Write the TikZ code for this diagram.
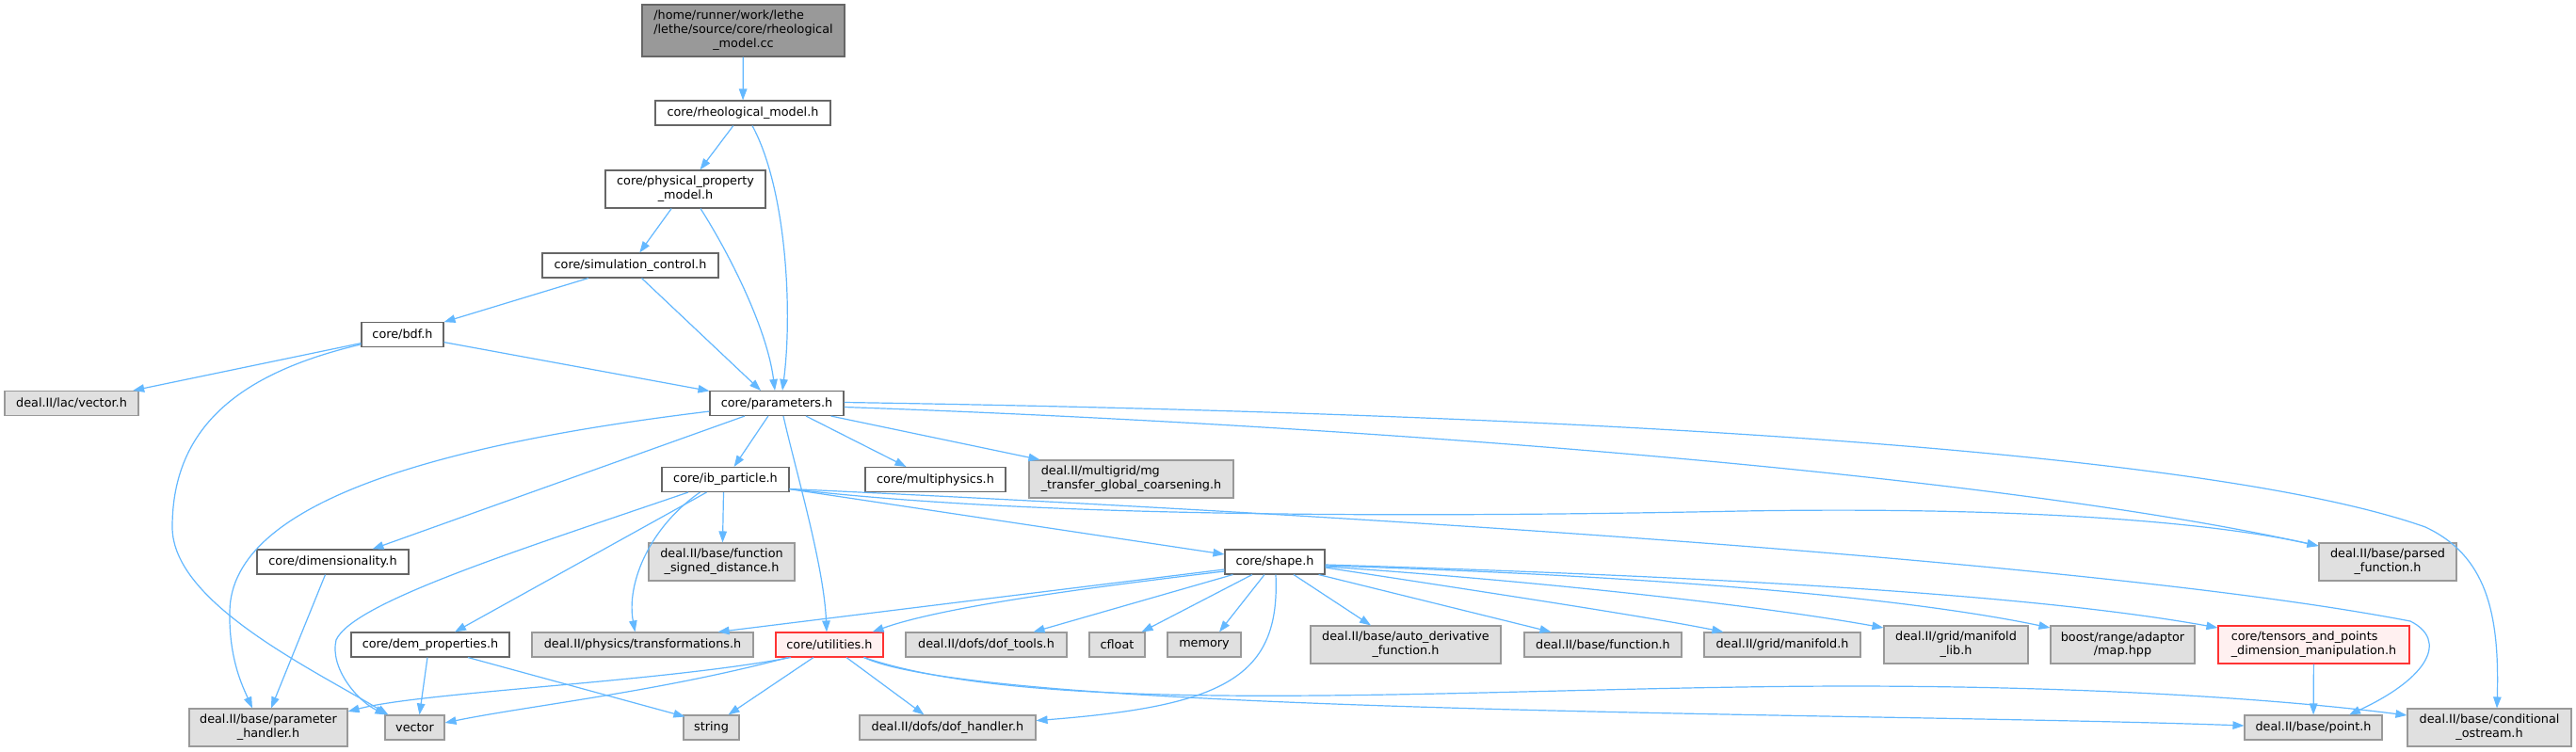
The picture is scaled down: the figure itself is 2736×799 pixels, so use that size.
\documentclass[tikz,border=0pt]{standalone}
\usepackage{fontspec}
\setmainfont{DejaVu Sans}
\usepackage{calc}
\usetikzlibrary{arrows.meta,calc}
\definecolor{edgeblue}{HTML}{63B8FF}
\definecolor{wborder}{HTML}{666666}
\definecolor{gborder}{HTML}{999999}
\definecolor{gfill}{HTML}{E0E0E0}
\definecolor{rootfill}{HTML}{999999}
\definecolor{redfill}{HTML}{FFF0F0}
\definecolor{redborder}{HTML}{FF3333}
\newcommand\lftline[2]{\makebox[\widthof{#2}][l]{#1}}
\begin{document}
\begin{tikzpicture}[x=1pt,y=-1pt,
  base/.style={line width=1.1pt, minimum height=26pt, inner sep=0pt, align=center,
    font=\fontsize{12.8pt}{14.9pt}\selectfont},
  wbox/.style={base, draw=wborder, fill=white},
  gbox/.style={base, draw=gborder, fill=gfill},
  rbox/.style={base, draw=redborder, fill=redfill},
  rootbox/.style={base, draw=wborder, fill=rootfill},
  twol/.style={minimum height=40pt},
  e/.style={draw=edgeblue, line width=1.2pt, -{Triangle[length=12pt,width=8.5pt]}}]
\useasboundingbox (0,0) rectangle (2736,799);
\fill[white] (0,0) rectangle (2736,799);

% nodes
\node[rootbox, minimum width=215pt, minimum height=55pt] (root) at (789.5,32.5)
  {\lftline{/home/runner/work/lethe}{/lethe/source/core/rheological}\\/lethe/source/core/rheological\\\_model.cc};
\node[wbox, minimum width=186pt] (rheo) at (789,120) {core/rheological\_model.h};
\node[wbox, twol, minimum width=170pt] (phys) at (728,201) {core/physical\_property\\\_model.h};
\node[wbox, minimum width=187pt] (sim) at (669.5,282) {core/simulation\_control.h};
\node[wbox, minimum width=87pt] (bdf) at (427.5,355.5) {core/bdf.h};
\node[gbox, minimum width=142pt] (lacvec) at (76,428.5) {deal.II/lac/vector.h};
\node[wbox, minimum width=142pt] (params) at (825,428.5) {core/parameters.h};
\node[wbox, minimum width=135pt] (ib) at (770.5,509.5) {core/ib\_particle.h};
\node[wbox, minimum width=149pt] (multi) at (993.5,509.5) {core/multiphysics.h};
\node[gbox, twol, minimum width=217pt] (mg) at (1201.5,509) {\lftline{deal.II/multigrid/mg}{\_transfer\_global\_coarsening.h}\\\_transfer\_global\_coarsening.h};
\node[wbox, minimum width=161pt] (dim) at (353.5,597) {core/dimensionality.h};
\node[gbox, twol, minimum width=155pt] (fsd) at (766.5,597) {deal.II/base/function\\\_signed\_distance.h};
\node[wbox, minimum width=106pt] (shape) at (1354,597) {core/shape.h};
\node[gbox, twol, minimum width=146pt] (parsed) at (2536,597) {deal.II/base/parsed\\\_function.h};
\node[wbox, minimum width=168pt] (dem) at (457,685) {core/dem\_properties.h};
\node[gbox, minimum width=235pt] (trans) at (682.5,685) {deal.II/physics/transformations.h};
\node[rbox, minimum width=114pt] (util) at (881,685) {core/utilities.h};
\node[gbox, minimum width=171pt] (doftools) at (1047.5,685) {deal.II/dofs/dof\_tools.h};
\node[gbox, minimum width=59pt] (cfloat) at (1186.5,685) {cfloat};
\node[gbox, minimum width=78pt] (memory) at (1279,685) {memory};
\node[gbox, twol, minimum width=202pt] (autod) at (1493,685) {deal.II/base/auto\_derivative\\\_function.h};
\node[gbox, minimum width=167pt] (func) at (1702.5,685) {deal.II/base/function.h};
\node[gbox, minimum width=166pt] (gman) at (1893,685) {deal.II/grid/manifold.h};
\node[gbox, twol, minimum width=153pt] (mlib) at (2077.5,685) {deal.II/grid/manifold\\\_lib.h};
\node[gbox, twol, minimum width=153pt] (map) at (2254.5,685) {boost/range/adaptor\\/map.hpp};
\node[rbox, twol, minimum width=203pt] (tens) at (2457.5,685) {\lftline{core/tensors\_and\_points}{\_dimension\_manipulation.h}\\\_dimension\_manipulation.h};
\node[gbox, twol, minimum width=168pt] (ph) at (285,773) {deal.II/base/parameter\\\_handler.h};
\node[gbox, minimum width=63pt] (vector) at (440.5,773) {vector};
\node[gbox, minimum width=59pt] (string) at (755.5,773) {string};
\node[gbox, minimum width=187pt] (dofh) at (1006.5,773) {deal.II/dofs/dof\_handler.h};
\node[gbox, minimum width=146pt] (point) at (2457,773) {deal.II/base/point.h};
\node[gbox, twol, minimum width=174pt] (cond) at (2644,773) {deal.II/base/conditional\\\_ostream.h};

% edges
\draw[e] (root) -- (rheo);
\draw[e] (rheo) -- (phys);
\draw[e] ($(rheo.south)+(10,0)$) .. controls (835,200) and (842,330) .. ($(params.north)+(6,0)$);
\draw[e] (phys) -- (sim);
\draw[e] ($(phys.south)+(16,0)$) .. controls (775,270) and (815,350) .. ($(params.north)+(-2,0)$);
\draw[e] (sim) -- (bdf);
\draw[e] ($(sim.south)+(12,0)$) -- ($(params.north)+(-17,0)$);
\draw[e] (bdf) -- (lacvec);
\draw[e] (bdf) .. controls (260,395) and (183,450) .. (183,560) .. controls (183,640) and (330,710) .. ($(vector.north west)+(4,0)$);
\draw[e] (bdf) -- (params);

\draw[e] (params) .. controls (480,470) and (245,530) .. (244,650) .. controls (243,700) and (258,730) .. ($(ph.north)+(-17,0)$);
\draw[e] ($(params.south)+(-34,0)$) -- ($(dim.north)+(42,0)$);
\draw[e] (params) -- (ib);
\draw[e] ($(params.south)+(7,0)$) .. controls (845,500) and (875,600) .. ($(util.north)+(-3,0)$);
\draw[e] ($(params.south)+(31,0)$) -- ($(multi.north)+(-31,0)$);
\draw[e] ($(params.south east)+(-14,0)$) -- ($(mg.north west)+(12,0)$);
\draw[e] ($(params.east)+(0,4)$) .. controls (1400,450) and (2100,500) .. ($(parsed.west)+(0,-17)$);
\draw[e] ($(params.east)+(0,-1)$) .. controls (1700,440) and (2350,480) .. (2576,560) .. controls (2640,590) and (2655,650) .. ($(cond.north)+(8,0)$);

\draw[e] (ib) .. controls (550,585) and (375,640) .. (357,680) .. controls (350,710) and (380,745) .. ($(vector.north west)+(2,0)$);
\draw[e] ($(ib.south)+(-20,0)$) -- ($(dem.north)+(26,0)$);
\draw[e] ($(ib.south)+(-27,0)$) .. controls (690,560) and (665,620) .. ($(trans.north)+(-8,0)$);
\draw[e] ($(ib.south)+(-2,0)$) -- ($(fsd.north)+(1,0)$);
\draw[e] (ib) -- (shape);
\draw[e] ($(ib.east)+(0,10)$) .. controls (1100,550) and (1500,550) .. (1850,543) .. controls (2150,538) and (2350,555) .. ($(parsed.west)+(0,-17)$);
\draw[e] ($(ib.east)+(0,10)$) .. controls (1500,550) and (2250,600) .. (2560,660) .. controls (2600,680) and (2580,720) .. ($(point.north)+(38,0)$);

\draw[e] ($(dim.south)+(-8,0)$) -- ($(ph.north)+(3,0)$);
\draw[e] ($(dem.south)+(-3,0)$) -- ($(vector.north)+(5,0)$);
\draw[e] ($(dem.south)+(40,0)$) -- ($(string.north west)+(2,2)$);

\draw[e] ($(util.south)+(-41,0)$) .. controls (700,725) and (450,735) .. ($(ph.east)+(0,-17)$);
\draw[e] ($(util.south)+(-44,0)$) .. controls (700,735) and (560,750) .. ($(vector.east)+(0,-5)$);
\draw[e] ($(util.south)+(-17,0)$) -- ($(string.north)+(18,0)$);
\draw[e] ($(util.south)+(18,0)$) -- ($(dofh.north)+(-25,0)$);
\draw[e] ($(util.south east)+(-21,0)$) .. controls (1050,760) and (2000,757) .. ($(point.west)+(0,-2)$);
\draw[e] ($(util.south east)+(-21,0)$) .. controls (1100,760) and (1500,735) .. (1850,730) .. controls (2150,725) and (2400,740) .. ($(cond.west)+(0,-13)$);

\draw[e] ($(shape.west)+(0,8)$) -- ($(trans.north east)+(-38,0)$);
\draw[e] ($(shape.west)+(0,10)$) .. controls (1150,625) and (1000,645) .. ($(util.north east)+(-12,0)$);
\draw[e] ($(shape.south west)+(9,0)$) -- ($(doftools.north)+(50,0)$);
\draw[e] ($(shape.south)+(-24,0)$) -- ($(cfloat.north east)+(-4,0)$);
\draw[e] ($(shape.south)+(-11,0)$) -- ($(memory.north)+(16,0)$);
\draw[e] ($(shape.south)+(1,0)$) .. controls (1360,720) and (1300,750) .. (dofh);
\draw[e] ($(shape.south)+(20,0)$) -- ($(autod.north)+(-37,0)$);
\draw[e] ($(shape.south east)+(-7,0)$) -- ($(func.north west)+(29,0)$);
\draw[e] ($(shape.east)+(0,6)$) .. controls (1550,625) and (1750,655) .. ($(gman.north west)+(21,0)$);
\draw[e] ($(shape.east)+(0,5)$) .. controls (1600,615) and (1850,640) .. ($(mlib.west)+(0,-18)$);
\draw[e] ($(shape.east)+(0,4)$) .. controls (1700,610) and (2000,630) .. ($(map.west)+(0,-18)$);
\draw[e] ($(shape.east)+(0,3)$) .. controls (1800,612) and (2150,630) .. ($(tens.west)+(0,-18)$);

\draw[e] (tens) -- (point);
\end{tikzpicture}
\end{document}
